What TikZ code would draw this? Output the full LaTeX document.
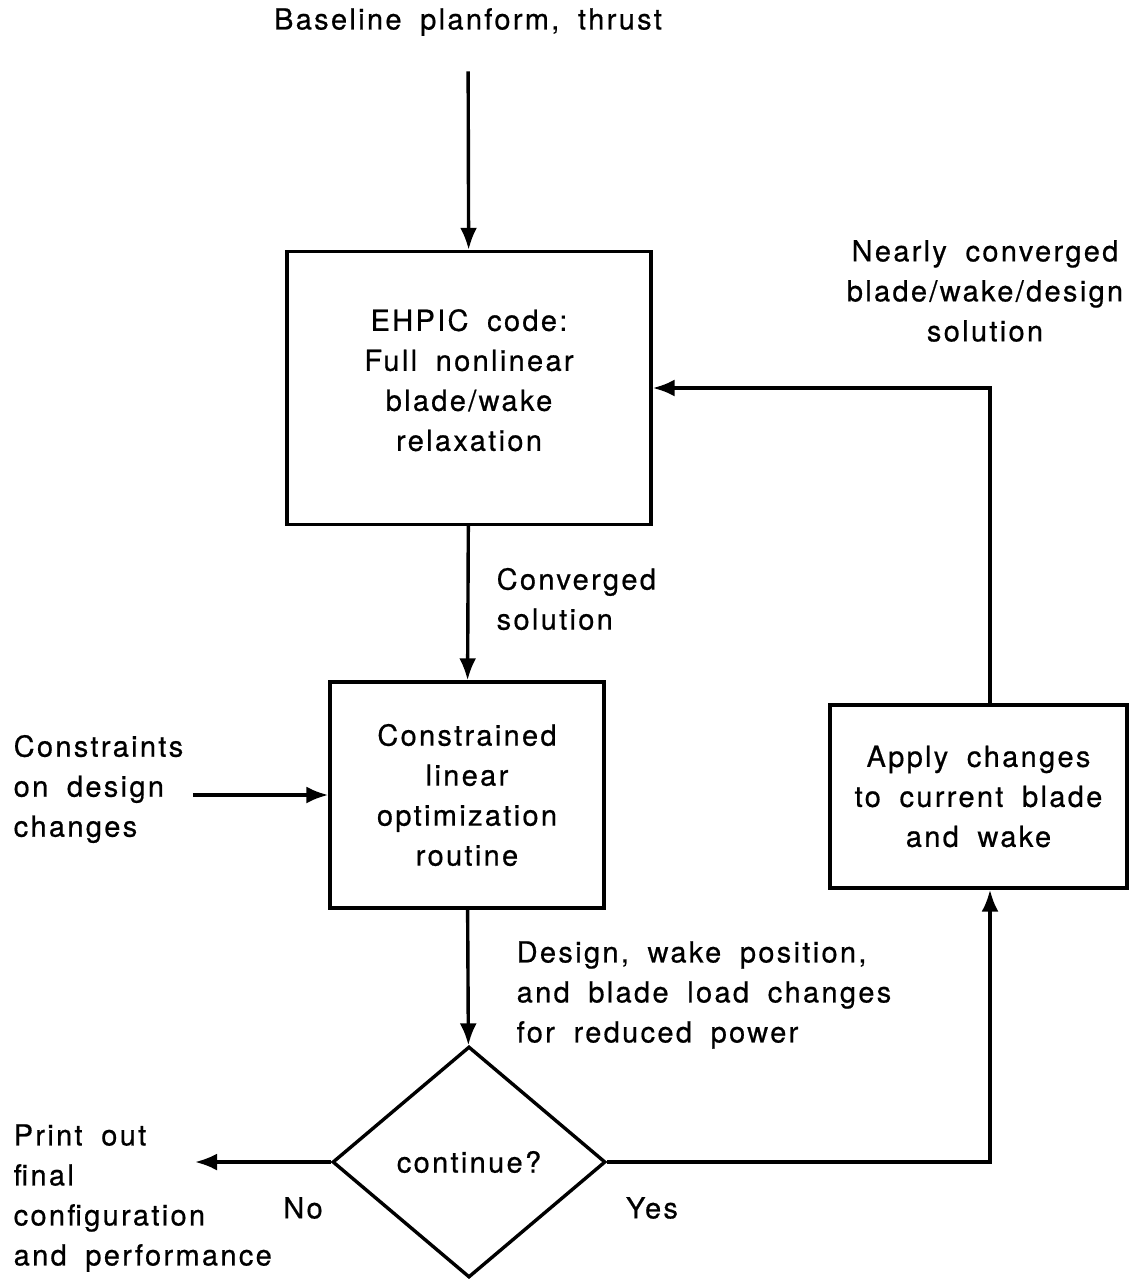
\documentclass[tikz,border=0pt]{standalone}
\usepackage{fontspec}
\setmainfont[LetterSpace=8,WordSpace=1.8,FakeBold=0.6]{TeX Gyre Heros}
\usepackage{tikz}
\usetikzlibrary{arrows.meta,shapes.geometric}

\begin{document}
\begin{tikzpicture}[x=1pt,y=-1pt,line width=3.4pt,
  font=\fontsize{29}{40}\selectfont,
  box/.style={draw,rectangle,align=center,inner sep=0pt},
  decision/.style={draw,diamond,inner sep=0pt},
  txt/.style={align=left,inner sep=0pt},
  arr/.style={-{Latex[length=22pt,width=17pt]}}]
\useasboundingbox (0,0) rectangle (1146,1279);
\node[txt,align=center] (base) at (468,22) {Baseline planform, thrust};
\node[box,minimum width=364,minimum height=273] (ehpic) at (469,388) {EHPIC code:\\Full nonlinear\\blade/wake\\relaxation\rule[-16pt]{0pt}{0pt}};
\node[box,minimum width=274,minimum height=226] (optbox) at (467,795) {Constrained\\linear\\optimization\\routine};
\node[box,minimum width=297,minimum height=183] (apply) at (978.5,796.5) {Apply changes\\to current blade\\and wake};
\node[decision,minimum width=273,minimum height=231] (cont) at (469,1162) {continue?};
\node[txt,anchor=west] (conv) at (495,599) {Converged\\solution};
\node[txt,anchor=west] (constr) at (12,789) {Constraints\\on design\\changes};
\node[txt,anchor=west] (dsgn) at (515,995) {Design, wake position,\\and blade load changes\\for reduced power};
\node[txt,anchor=west] (print) at (12,1198) {Print out\\final\\configuration\\and performance};
\node[txt,align=center] (nearly) at (985,291) {Nearly converged\\blade/wake/design\\solution};
\node (no) at (303,1208) {No};
\node (yes) at (652,1208) {Yes};
\coordinate (printpt) at (195,1162);
% main flow
\draw[arr,shorten <=34pt] (base) -- (ehpic);
\draw[arr] (ehpic) -- (optbox);
\draw[arr] (optbox) -- (cont);
\draw[arr,shorten <=8pt] (constr.east |- optbox.west) -- (optbox.west);
\draw[arr] (cont.west) -- (printpt);
% feedback loop
\draw[arr] (cont.east) -| ([xshift=11.5pt]apply.south);
\draw[arr] ([xshift=11.5pt]apply.north) |- (ehpic.east);
\end{tikzpicture}
\end{document}
